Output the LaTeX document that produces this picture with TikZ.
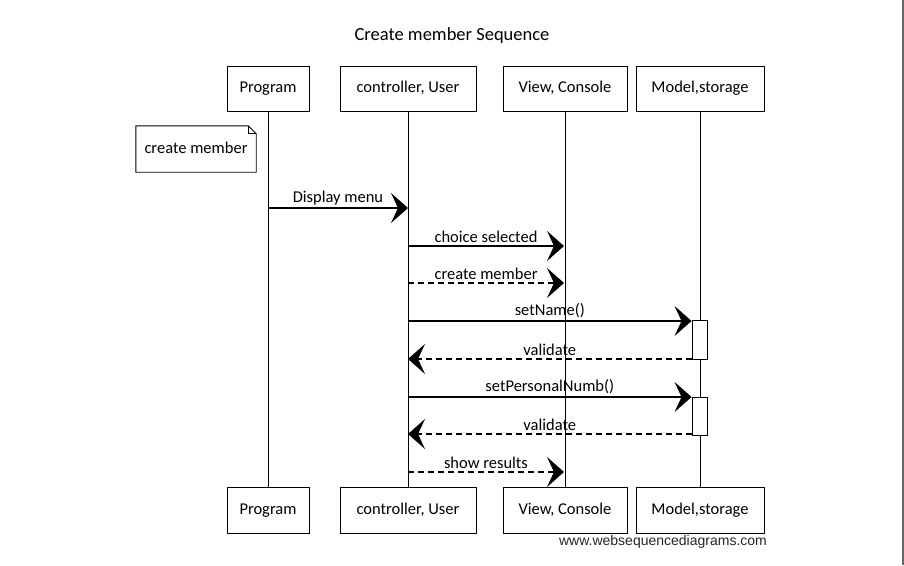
\documentclass[tikz,border=0pt]{standalone}
\usepackage{fontspec}
\setmainfont{Carlito}
\newfontfamily\wmfont{Liberation Sans}
\usetikzlibrary{arrows.meta}
\tikzset{
  actorbox/.style={draw, line width=0.9pt, inner sep=0pt, text height=0.8em, text depth=0pt, font=\fontsize{16.5}{18}\selectfont},
  lifeline/.style={line width=0.8pt},
  msg/.style={line width=1.1pt, -{Stealth[length=17pt,width=30pt,inset=7pt]}},
  rmsg/.style={msg, dash pattern=on 6pt off 4pt},
  lbl/.style={font=\fontsize{16.5}{18}\selectfont, inner sep=1pt, above=1.5pt},
  actbox/.style={draw, fill=white, line width=0.9pt, minimum width=15pt, inner sep=0pt}
}
\begin{document}
\begin{tikzpicture}[x=1pt,y=-1pt]
\useasboundingbox (0,0) rectangle (904,565);
\fill[white] (0,0) rectangle (904,565);
\fill[black!60] (902,0) rectangle (904,565);

\node[font=\fontsize{18.5}{20}\selectfont] (title) at (452,36) {Create member Sequence};

% top actors
\node[actorbox, minimum width=82pt, minimum height=45pt] (pT) at (268,88.5) {Program};
\node[actorbox, minimum width=136pt, minimum height=45pt] (cT) at (408,88.5) {controller, User};
\node[actorbox, minimum width=124pt, minimum height=45pt] (vT) at (565,88.5) {View, Console};
\node[actorbox, minimum width=128pt, minimum height=45pt] (mT) at (700,88.5) {Model,storage};
% bottom actors
\node[actorbox, minimum width=82pt, minimum height=46pt] (pB) at (268,510) {Program};
\node[actorbox, minimum width=136pt, minimum height=46pt] (cB) at (408,510) {controller, User};
\node[actorbox, minimum width=124pt, minimum height=46pt] (vB) at (565,510) {View, Console};
\node[actorbox, minimum width=128pt, minimum height=46pt] (mB) at (700,510) {Model,storage};

% lifelines
\draw[lifeline] (pT.south) -- (pB.north);
\draw[lifeline] (cT.south) -- (cB.north);
\draw[lifeline] (vT.south) -- (vB.north);
\draw[lifeline] (mT.south) -- (mB.north);

% note
\node[font=\fontsize{16.5}{18}\selectfont, text height=0.8em, text depth=0pt, minimum width=120pt, minimum height=46pt, inner sep=0pt] (note) at (196,149) {create member};
\draw[line width=0.9pt] (note.north west) -- ([xshift=-8pt]note.north east) -- ([yshift=-8pt]note.north east) -- (note.south east) -- (note.south west) -- cycle;
\draw[line width=0.7pt] ([xshift=-8pt]note.north east) -- ([xshift=-8pt,yshift=-8pt]note.north east) -- ([yshift=-8pt]note.north east);

% activation boxes
\node[actbox, minimum height=39pt] (act1) at (699.5,340) {};
\node[actbox, minimum height=38pt] (act2) at (699.5,416) {};

% message points
\coordinate (a1) at (268,208);   \coordinate (b1) at (408,208);
\coordinate (a2) at (408,246);   \coordinate (b2) at (564,246);
\coordinate (a3) at (408,283);   \coordinate (b3) at (564,283);
\coordinate (a4) at (408,321);
\coordinate (b5) at (408,359);
\coordinate (a6) at (408,397);
\coordinate (b7) at (408,434);
\coordinate (a8) at (408,472);   \coordinate (b8) at (564,472);

\draw[msg] (a1) -- node[lbl] {Display menu} (b1);
\draw[msg] (a2) -- node[lbl] {choice selected} (b2);
\draw[rmsg] (a3) -- node[lbl] {create member} (b3);
\draw[msg] (a4) -- node[lbl] {setName()} (a4 -| act1.west);
\draw[rmsg] (b5 -| act1.west) -- node[lbl] {validate} (b5);
\draw[msg] (a6) -- node[lbl] {setPersonalNumb()} (a6 -| act2.west);
\draw[rmsg] (b7 -| act2.west) -- node[lbl] {validate} (b7);
\draw[rmsg] (a8) -- node[lbl] {show results} (b8);

\node[font=\wmfont\fontsize{14}{16}\selectfont, text=black!85] (wm) at (663,542) {www.websequencediagrams.com};
\end{tikzpicture}
\end{document}
